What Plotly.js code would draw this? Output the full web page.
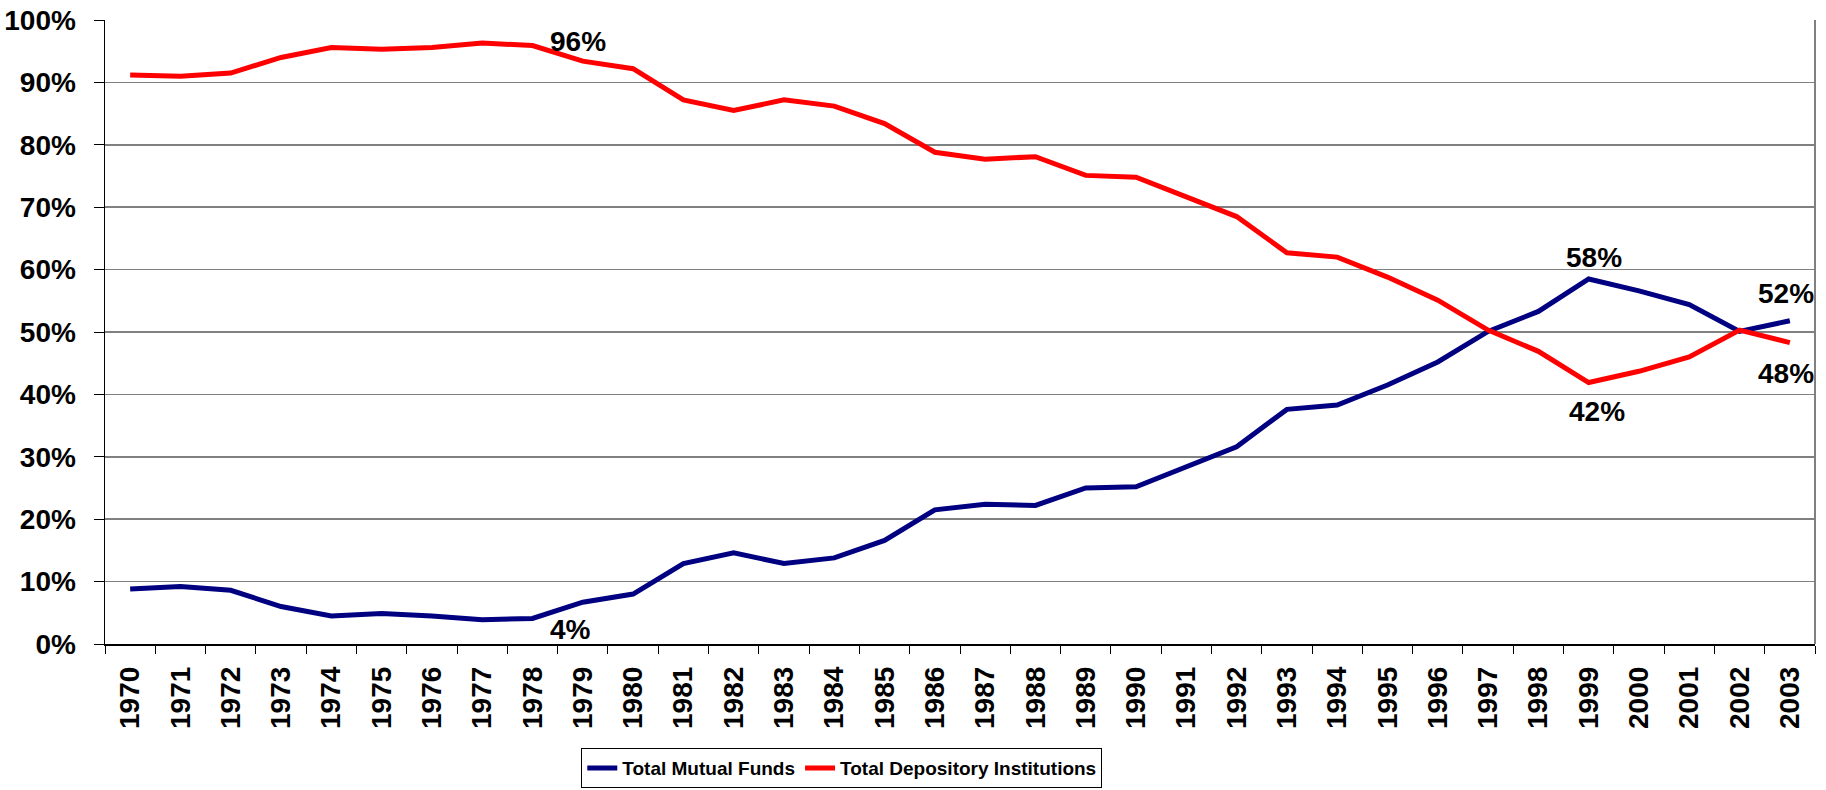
<!DOCTYPE html>
<html>
<head>
<meta charset="utf-8">
<script src="https://cdn.plot.ly/plotly-3.0.1.min.js"></script>
<style>html,body{margin:0;padding:0;background:#fff;}#chart{width:1826px;height:790px;}</style>
</head>
<body>
<div id="chart"></div>
<script>
const years = ['1970','1971','1972','1973','1974','1975','1976','1977','1978','1979','1980','1981','1982','1983','1984','1985','1986','1987','1988','1989','1990','1991','1992','1993','1994','1995','1996','1997','1998','1999','2000','2001','2002','2003'];
const mutualFunds = [8.8,9.2,8.6,6.0,4.5,4.9,4.5,3.9,4.1,6.7,8.0,12.9,14.6,12.9,13.8,16.6,21.5,22.4,22.2,25.0,25.2,28.4,31.6,37.6,38.3,41.5,45.2,50.1,53.3,58.5,56.6,54.4,50.1,51.8];
const depository = [91.2,91.0,91.5,94.0,95.6,95.3,95.6,96.3,95.9,93.4,92.2,87.2,85.5,87.2,86.2,83.4,78.8,77.7,78.1,75.1,74.8,71.6,68.5,62.7,62.0,58.8,55.1,50.3,46.9,41.9,43.7,46.0,50.3,48.3];
const seriesNames = ['Total Mutual Funds','Total Depository Institutions'];
const yTickVals = [0,10,20,30,40,50,60,70,80,90,100];
const yTickText = ['0%','10%','20%','30%','40%','50%','60%','70%','80%','90%','100%'];
const labelTexts = ['96%','4%','58%','42%','52%','48%'];

const FONT = 'Liberation Sans, Arial, Helvetica, sans-serif';

const traces = [
  {x: years, y: mutualFunds, name: seriesNames[0], type: 'scatter', mode: 'lines',
   line: {color: '#000080', width: 5}},
  {x: years, y: depository, name: seriesNames[1], type: 'scatter', mode: 'lines',
   line: {color: '#FF0000', width: 5}}
];

const ann = (text, x, y) => ({text: '<b>' + text + '</b>', x: x, y: y, xref: 'x', yref: 'y',
  showarrow: false, font: {family: FONT, size: 28, color: '#000'}, xanchor: 'center', yanchor: 'middle'});

const layout = {
  width: 1826, height: 790,
  margin: {l: 105, r: 11, t: 20, b: 146},
  paper_bgcolor: '#fff', plot_bgcolor: '#fff',
  showlegend: true,
  font: {family: FONT, color: '#000'},
  xaxis: {
    type: 'category', tickangle: -90, tickson: 'boundaries',
    ticks: 'outside', ticklen: 8, tickcolor: '#000', tickwidth: 1,
    showline: true, linecolor: '#000', linewidth: 1.5,
    showgrid: false, zeroline: false,
    tickfont: {family: FONT, size: 28, color: '#000', weight: 'bold'},
    ticklabelstandoff: 10,
    range: [-0.5, 33.5], fixedrange: true
  },
  yaxis: {
    range: [0, 100], tickvals: yTickVals, ticktext: yTickText,
    ticks: 'outside', ticklen: 10, tickcolor: '#000', tickwidth: 1,
    showline: true, linecolor: '#000', linewidth: 1.5,
    showgrid: true, gridcolor: '#808080', gridwidth: 1.5, zeroline: false,
    tickfont: {family: FONT, size: 28, color: '#000', weight: 'bold'},
    ticklabelstandoff: 12, fixedrange: true
  },
  shapes: [
    {type: 'line', xref: 'paper', yref: 'paper', x0: 1, x1: 1, y0: 0, y1: 1,
     line: {color: '#808080', width: 2}}
  ],
  legend: {
    orientation: 'h', xref: 'container', yref: 'container',
    x: 0.461, xanchor: 'center', y: 0.053, yanchor: 'top',
    bordercolor: '#000', borderwidth: 1, bgcolor: '#fff',
    font: {family: 'Liberation Sans Narrow, Arial Narrow, ' + FONT, size: 19, color: '#000', weight: 'bold', stretch: 'condensed'},
    itemwidth: 30, tracegroupgap: 0
  },
  annotations: [
    ann(labelTexts[0], 8.9, 96.5),
    ann(labelTexts[1], 8.76, 2.4),
    ann(labelTexts[2], 29.1, 62.0),
    ann(labelTexts[3], 29.16, 37.2),
    ann(labelTexts[4], 32.92, 56.1),
    ann(labelTexts[5], 32.92, 43.3)
  ]
};

Plotly.newPlot('chart', traces, layout, {displayModeBar: false, staticPlot: true});
</script>
</body>
</html>
